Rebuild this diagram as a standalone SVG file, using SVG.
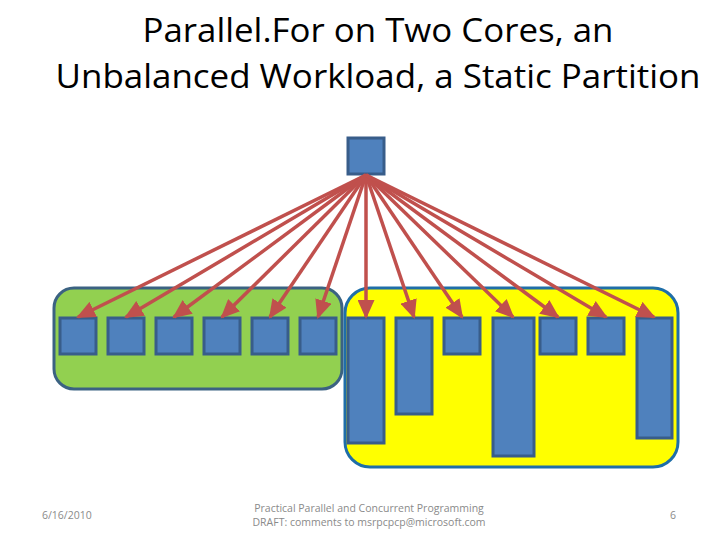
<svg xmlns="http://www.w3.org/2000/svg" width="720" height="540" viewBox="0 0 720 540">
<style>
.t{font-family:"Open Sans","Liberation Sans",sans-serif;font-size:33px;fill:#000}
.f{font-family:"Open Sans","Liberation Sans",sans-serif;font-size:10.5px;fill:#8a8a8a}
.box{fill:#4f81bd;stroke:#385d8a;stroke-width:3}
.ar{stroke:#c0504d;stroke-width:3.5;fill:none;marker-end:url(#ah)}
</style>
<defs>
<marker id="ah" markerUnits="userSpaceOnUse" markerWidth="19" markerHeight="17" refX="17" refY="8.5" orient="auto" viewBox="0 0 19 17">
<path d="M0,0 L19,8.5 L0,17 Z" fill="#c0504d"/>
</marker>
</defs>
<rect width="720" height="540" fill="#fff"/>
<text class="t" x="378" y="42" text-anchor="middle" textLength="471" lengthAdjust="spacingAndGlyphs">Parallel.For on Two Cores, an</text>
<text class="t" x="378" y="88" text-anchor="middle" textLength="645" lengthAdjust="spacingAndGlyphs">Unbalanced Workload, a Static Partition</text>
<g id="core1"><rect x="54" y="288" width="288" height="101" rx="20" fill="#92d050" stroke="#3b6282" stroke-width="3"/></g>
<g id="core2"><rect x="345" y="288" width="333" height="179" rx="25" fill="#ffff00" stroke="#1f6ea8" stroke-width="3"/></g>
<g id="source"><rect class="box" x="348" y="138" width="36" height="36"/></g>
<g id="g1"><rect class="box" x="60" y="318" width="36" height="36"/></g>
<g id="g2"><rect class="box" x="108" y="318" width="36" height="36"/></g>
<g id="g3"><rect class="box" x="156" y="318" width="36" height="36"/></g>
<g id="g4"><rect class="box" x="204" y="318" width="36" height="36"/></g>
<g id="g5"><rect class="box" x="252" y="318" width="36" height="36"/></g>
<g id="g6"><rect class="box" x="300" y="318" width="36" height="36"/></g>
<g id="y1"><rect class="box" x="348" y="318" width="36" height="125"/></g>
<g id="y2"><rect class="box" x="396" y="318" width="36" height="96"/></g>
<g id="y3"><rect class="box" x="444" y="318" width="36" height="36"/></g>
<g id="y4"><rect class="box" x="493" y="318" width="41" height="138"/></g>
<g id="y5"><rect class="box" x="540" y="318" width="36" height="36"/></g>
<g id="y6"><rect class="box" x="588" y="318" width="36" height="36"/></g>
<g id="y7"><rect class="box" x="637" y="318" width="35" height="120"/></g>
<g id="connectors">
<line class="ar" x1="366" y1="175" x2="78" y2="317"/>
<line class="ar" x1="366" y1="175" x2="126" y2="317"/>
<line class="ar" x1="366" y1="175" x2="174" y2="317"/>
<line class="ar" x1="366" y1="175" x2="222" y2="317"/>
<line class="ar" x1="366" y1="175" x2="270" y2="317"/>
<line class="ar" x1="366" y1="175" x2="318" y2="317"/>
<line class="ar" x1="366" y1="175" x2="366" y2="317"/>
<line class="ar" x1="366" y1="175" x2="414" y2="317"/>
<line class="ar" x1="366" y1="175" x2="462" y2="317"/>
<line class="ar" x1="366" y1="175" x2="513" y2="317"/>
<line class="ar" x1="366" y1="175" x2="558" y2="317"/>
<line class="ar" x1="366" y1="175" x2="606" y2="317"/>
<line class="ar" x1="366" y1="175" x2="654" y2="317"/>
</g>
<text class="f" x="42" y="519">6/16/2010</text>
<text class="f" x="369" y="512" text-anchor="middle">Practical Parallel and Concurrent Programming</text>
<text class="f" x="369" y="526" text-anchor="middle">DRAFT: comments to msrpcpcp@microsoft.com</text>
<text class="f" x="673" y="519" text-anchor="middle">6</text>
</svg>
